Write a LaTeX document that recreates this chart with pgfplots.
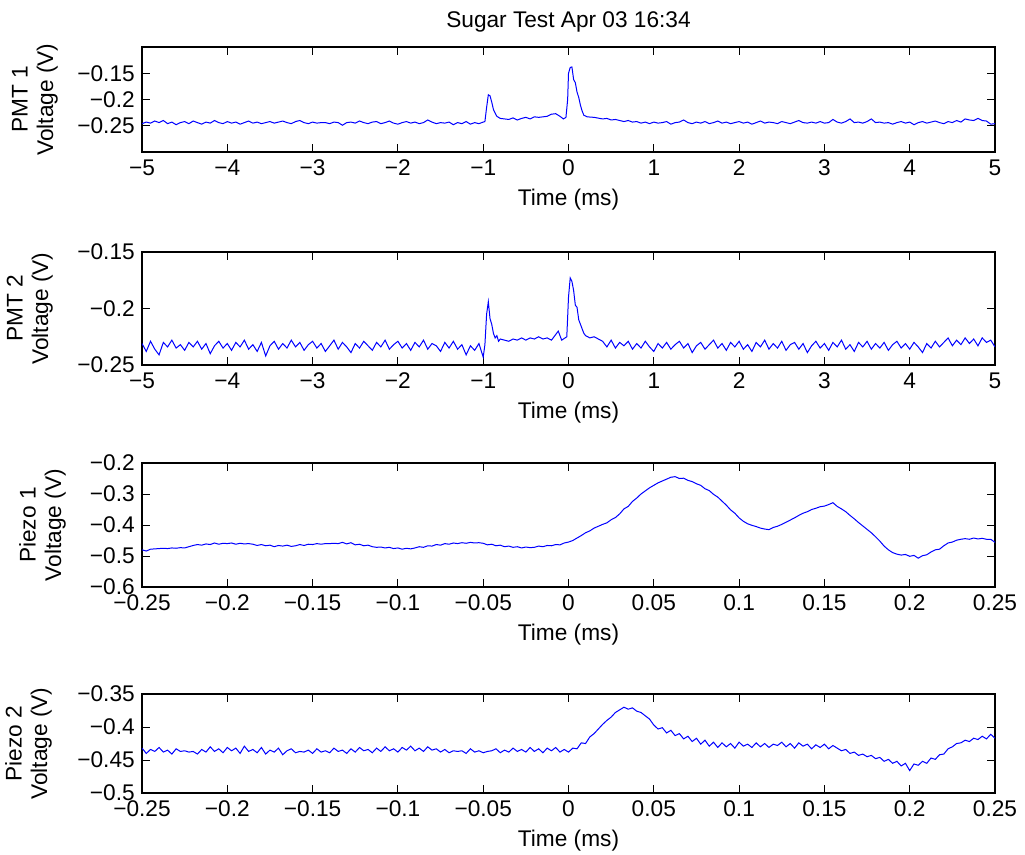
\documentclass[border=0pt]{standalone}
\usepackage{fontspec}
\setmainfont{Liberation Sans}
\usepackage{pgfplots}
\usepackage{pgfplotstable}
\pgfplotsset{compat=1.18}

% traces (time in ms, voltage in V)
\pgfplotstableread{
t v
-5.00 -0.246
-4.95 -0.243
-4.90 -0.245
-4.85 -0.241
-4.80 -0.244
-4.75 -0.240
-4.70 -0.246
-4.65 -0.243
-4.60 -0.248
-4.55 -0.244
-4.50 -0.242
-4.45 -0.246
-4.40 -0.241
-4.35 -0.244
-4.30 -0.247
-4.25 -0.243
-4.20 -0.245
-4.15 -0.240
-4.10 -0.244
-4.05 -0.246
-4.00 -0.242
-3.95 -0.245
-3.90 -0.243
-3.85 -0.247
-3.80 -0.244
-3.75 -0.241
-3.70 -0.245
-3.65 -0.243
-3.60 -0.246
-3.55 -0.244
-3.50 -0.242
-3.45 -0.245
-3.40 -0.243
-3.35 -0.241
-3.30 -0.244
-3.25 -0.246
-3.20 -0.242
-3.15 -0.240
-3.10 -0.244
-3.05 -0.246
-3.00 -0.243
-2.95 -0.245
-2.90 -0.244
-2.85 -0.244
-2.80 -0.246
-2.75 -0.243
-2.70 -0.244
-2.65 -0.249
-2.60 -0.244
-2.55 -0.243
-2.50 -0.245
-2.45 -0.241
-2.40 -0.244
-2.35 -0.246
-2.30 -0.243
-2.25 -0.242
-2.20 -0.246
-2.15 -0.244
-2.10 -0.241
-2.05 -0.245
-2.00 -0.247
-1.95 -0.244
-1.90 -0.242
-1.85 -0.245
-1.80 -0.243
-1.75 -0.246
-1.70 -0.244
-1.65 -0.239
-1.60 -0.243
-1.55 -0.246
-1.50 -0.244
-1.45 -0.245
-1.40 -0.243
-1.35 -0.248
-1.30 -0.244
-1.25 -0.246
-1.20 -0.242
-1.15 -0.247
-1.10 -0.244
-1.05 -0.246
-1.00 -0.243
-0.98 -0.242
-0.96 -0.215
-0.94 -0.191
-0.92 -0.193
-0.90 -0.205
-0.88 -0.219
-0.86 -0.226
-0.84 -0.232
-0.80 -0.236
-0.75 -0.237
-0.70 -0.238
-0.65 -0.235
-0.60 -0.239
-0.55 -0.236
-0.50 -0.234
-0.45 -0.237
-0.40 -0.233
-0.35 -0.234
-0.30 -0.233
-0.25 -0.232
-0.20 -0.228
-0.15 -0.227
-0.10 -0.232
-0.06 -0.237
-0.03 -0.234
-0.01 -0.200
0.00 -0.150
0.02 -0.139
0.04 -0.138
0.06 -0.162
0.08 -0.168
0.10 -0.186
0.12 -0.196
0.14 -0.211
0.16 -0.222
0.18 -0.230
0.22 -0.233
0.30 -0.234
0.40 -0.237
0.45 -0.236
0.50 -0.239
0.55 -0.238
0.60 -0.240
0.65 -0.242
0.70 -0.240
0.75 -0.243
0.80 -0.242
0.85 -0.245
0.90 -0.243
0.95 -0.246
1.00 -0.243
1.05 -0.245
1.10 -0.244
1.15 -0.242
1.20 -0.247
1.25 -0.244
1.30 -0.243
1.35 -0.239
1.40 -0.244
1.45 -0.246
1.50 -0.243
1.55 -0.245
1.60 -0.242
1.65 -0.246
1.70 -0.244
1.75 -0.241
1.80 -0.245
1.85 -0.243
1.90 -0.246
1.95 -0.244
2.00 -0.242
2.05 -0.245
2.10 -0.243
2.15 -0.247
2.20 -0.244
2.25 -0.241
2.30 -0.245
2.35 -0.243
2.40 -0.244
2.45 -0.246
2.50 -0.242
2.55 -0.244
2.60 -0.246
2.65 -0.243
2.70 -0.240
2.75 -0.244
2.80 -0.245
2.85 -0.243
2.90 -0.245
2.95 -0.242
3.00 -0.245
3.05 -0.244
3.10 -0.238
3.15 -0.243
3.20 -0.245
3.25 -0.242
3.30 -0.237
3.35 -0.244
3.40 -0.243
3.45 -0.245
3.50 -0.242
3.55 -0.237
3.60 -0.244
3.65 -0.243
3.70 -0.245
3.75 -0.244
3.80 -0.247
3.85 -0.244
3.90 -0.242
3.95 -0.245
4.00 -0.243
4.05 -0.248
4.10 -0.244
4.15 -0.242
4.20 -0.245
4.25 -0.243
4.30 -0.241
4.35 -0.244
4.40 -0.246
4.45 -0.242
4.50 -0.244
4.55 -0.240
4.60 -0.243
4.65 -0.237
4.70 -0.239
4.75 -0.240
4.80 -0.236
4.85 -0.240
4.90 -0.241
4.95 -0.247
5.00 -0.246
}\pmtone

\pgfplotstableread{
t v
-5.00 -0.231
-4.95 -0.238
-4.90 -0.229
-4.85 -0.236
-4.80 -0.241
-4.75 -0.230
-4.70 -0.234
-4.65 -0.228
-4.60 -0.235
-4.55 -0.232
-4.50 -0.237
-4.45 -0.230
-4.40 -0.234
-4.35 -0.229
-4.30 -0.236
-4.25 -0.231
-4.20 -0.240
-4.15 -0.233
-4.10 -0.229
-4.05 -0.235
-4.00 -0.231
-3.95 -0.237
-3.90 -0.230
-3.85 -0.234
-3.80 -0.228
-3.75 -0.236
-3.70 -0.232
-3.65 -0.238
-3.60 -0.230
-3.55 -0.242
-3.50 -0.233
-3.45 -0.229
-3.40 -0.236
-3.35 -0.231
-3.30 -0.235
-3.25 -0.228
-3.20 -0.234
-3.15 -0.230
-3.10 -0.237
-3.05 -0.232
-3.00 -0.229
-2.95 -0.235
-2.90 -0.231
-2.85 -0.238
-2.80 -0.233
-2.75 -0.228
-2.70 -0.236
-2.65 -0.230
-2.60 -0.234
-2.55 -0.239
-2.50 -0.231
-2.45 -0.235
-2.40 -0.229
-2.35 -0.233
-2.30 -0.237
-2.25 -0.230
-2.20 -0.234
-2.15 -0.228
-2.10 -0.236
-2.05 -0.232
-2.00 -0.229
-1.95 -0.235
-1.90 -0.231
-1.85 -0.237
-1.80 -0.230
-1.75 -0.234
-1.70 -0.228
-1.65 -0.236
-1.60 -0.231
-1.55 -0.233
-1.50 -0.238
-1.45 -0.230
-1.40 -0.235
-1.35 -0.229
-1.30 -0.236
-1.25 -0.232
-1.20 -0.241
-1.15 -0.233
-1.10 -0.237
-1.05 -0.231
-1.00 -0.243
-0.98 -0.232
-0.96 -0.205
-0.94 -0.194
-0.92 -0.209
-0.90 -0.214
-0.88 -0.222
-0.86 -0.226
-0.84 -0.224
-0.82 -0.229
-0.80 -0.227
-0.75 -0.228
-0.70 -0.229
-0.65 -0.227
-0.60 -0.228
-0.55 -0.226
-0.50 -0.228
-0.45 -0.226
-0.40 -0.227
-0.35 -0.225
-0.30 -0.227
-0.25 -0.226
-0.20 -0.228
-0.15 -0.223
-0.12 -0.220
-0.08 -0.228
-0.04 -0.226
-0.02 -0.225
0.00 -0.190
0.02 -0.173
0.04 -0.176
0.06 -0.184
0.08 -0.197
0.10 -0.199
0.12 -0.210
0.14 -0.214
0.16 -0.218
0.18 -0.222
0.20 -0.224
0.25 -0.226
0.30 -0.225
0.35 -0.227
0.40 -0.229
0.45 -0.234
0.50 -0.228
0.55 -0.235
0.60 -0.230
0.65 -0.233
0.70 -0.229
0.75 -0.236
0.80 -0.231
0.85 -0.235
0.90 -0.229
0.95 -0.234
1.00 -0.238
1.05 -0.231
1.10 -0.235
1.15 -0.230
1.20 -0.236
1.25 -0.232
1.30 -0.229
1.35 -0.235
1.40 -0.231
1.45 -0.239
1.50 -0.233
1.55 -0.230
1.60 -0.236
1.65 -0.232
1.70 -0.228
1.75 -0.235
1.80 -0.231
1.85 -0.237
1.90 -0.230
1.95 -0.234
2.00 -0.229
2.05 -0.236
2.10 -0.232
2.15 -0.238
2.20 -0.230
2.25 -0.234
2.30 -0.228
2.35 -0.236
2.40 -0.231
2.45 -0.235
2.50 -0.229
2.55 -0.237
2.60 -0.232
2.65 -0.230
2.70 -0.236
2.75 -0.231
2.80 -0.239
2.85 -0.233
2.90 -0.229
2.95 -0.235
3.00 -0.231
3.05 -0.237
3.10 -0.230
3.15 -0.234
3.20 -0.228
3.25 -0.236
3.30 -0.232
3.35 -0.238
3.40 -0.230
3.45 -0.234
3.50 -0.229
3.55 -0.236
3.60 -0.231
3.65 -0.235
3.70 -0.230
3.75 -0.237
3.80 -0.232
3.85 -0.229
3.90 -0.235
3.95 -0.231
4.00 -0.236
4.05 -0.230
4.10 -0.234
4.15 -0.239
4.20 -0.231
4.25 -0.235
4.30 -0.229
4.35 -0.234
4.40 -0.230
4.45 -0.226
4.50 -0.233
4.55 -0.228
4.60 -0.232
4.65 -0.226
4.70 -0.231
4.75 -0.227
4.80 -0.233
4.85 -0.226
4.90 -0.230
4.95 -0.228
5.00 -0.234
}\pmttwo

\pgfplotstableread{
t v
-0.250 -0.480
-0.2475 -0.484
-0.245 -0.478
-0.2425 -0.477
-0.240 -0.476
-0.2375 -0.475
-0.235 -0.476
-0.2325 -0.474
-0.230 -0.475
-0.2275 -0.473
-0.225 -0.474
-0.2225 -0.470
-0.220 -0.466
-0.2175 -0.463
-0.215 -0.465
-0.2125 -0.461
-0.210 -0.463
-0.2075 -0.458
-0.205 -0.462
-0.2025 -0.459
-0.200 -0.460
-0.1975 -0.458
-0.195 -0.462
-0.1925 -0.459
-0.190 -0.461
-0.1875 -0.460
-0.185 -0.462
-0.1825 -0.466
-0.180 -0.463
-0.1775 -0.467
-0.175 -0.465
-0.1725 -0.470
-0.170 -0.466
-0.1675 -0.468
-0.165 -0.465
-0.1625 -0.469
-0.160 -0.467
-0.1575 -0.463
-0.155 -0.466
-0.1525 -0.462
-0.150 -0.463
-0.1475 -0.460
-0.145 -0.462
-0.1425 -0.460
-0.140 -0.460
-0.1375 -0.459
-0.135 -0.460
-0.1325 -0.456
-0.130 -0.461
-0.1275 -0.457
-0.125 -0.464
-0.1225 -0.462
-0.120 -0.467
-0.1175 -0.465
-0.115 -0.470
-0.1125 -0.472
-0.110 -0.471
-0.1075 -0.474
-0.105 -0.472
-0.1025 -0.476
-0.100 -0.474
-0.0975 -0.478
-0.095 -0.475
-0.0925 -0.477
-0.090 -0.474
-0.0875 -0.470
-0.085 -0.472
-0.0825 -0.467
-0.080 -0.468
-0.0775 -0.463
-0.075 -0.465
-0.0725 -0.460
-0.070 -0.462
-0.0675 -0.458
-0.065 -0.460
-0.0625 -0.457
-0.060 -0.459
-0.0575 -0.456
-0.055 -0.458
-0.0525 -0.457
-0.050 -0.459
-0.0475 -0.464
-0.045 -0.462
-0.0425 -0.467
-0.040 -0.465
-0.0375 -0.470
-0.035 -0.468
-0.0325 -0.472
-0.030 -0.470
-0.0275 -0.474
-0.025 -0.471
-0.0225 -0.473
-0.020 -0.472
-0.0175 -0.468
-0.015 -0.470
-0.0125 -0.466
-0.010 -0.467
-0.0075 -0.463
-0.005 -0.464
-0.0025 -0.458
0.000 -0.455
0.0025 -0.450
0.005 -0.442
0.0075 -0.434
0.010 -0.425
0.0125 -0.419
0.015 -0.410
0.0175 -0.404
0.020 -0.398
0.0225 -0.393
0.025 -0.383
0.0275 -0.376
0.030 -0.364
0.0325 -0.348
0.035 -0.340
0.0375 -0.324
0.040 -0.313
0.0425 -0.300
0.045 -0.290
0.0475 -0.280
0.050 -0.272
0.0525 -0.264
0.055 -0.258
0.0575 -0.252
0.060 -0.246
0.0625 -0.244
0.065 -0.250
0.0675 -0.249
0.070 -0.256
0.0725 -0.260
0.075 -0.267
0.0775 -0.272
0.080 -0.283
0.0825 -0.289
0.085 -0.301
0.0875 -0.310
0.090 -0.323
0.0925 -0.336
0.095 -0.351
0.0975 -0.362
0.100 -0.377
0.1025 -0.388
0.105 -0.396
0.1075 -0.401
0.110 -0.405
0.1125 -0.410
0.115 -0.413
0.1175 -0.415
0.120 -0.408
0.1225 -0.404
0.125 -0.398
0.1275 -0.391
0.130 -0.384
0.1325 -0.377
0.135 -0.369
0.1375 -0.362
0.140 -0.357
0.1425 -0.350
0.145 -0.346
0.1475 -0.341
0.150 -0.339
0.1525 -0.334
0.155 -0.328
0.1575 -0.340
0.160 -0.348
0.1625 -0.357
0.165 -0.369
0.1675 -0.380
0.170 -0.392
0.1725 -0.403
0.175 -0.414
0.1775 -0.425
0.180 -0.438
0.1825 -0.452
0.185 -0.468
0.1875 -0.480
0.190 -0.489
0.1925 -0.494
0.195 -0.497
0.1975 -0.495
0.200 -0.501
0.2025 -0.498
0.205 -0.507
0.2075 -0.499
0.210 -0.496
0.2125 -0.487
0.215 -0.480
0.2175 -0.478
0.220 -0.467
0.2225 -0.458
0.225 -0.455
0.2275 -0.449
0.230 -0.446
0.2325 -0.444
0.235 -0.446
0.2375 -0.442
0.240 -0.445
0.2425 -0.443
0.245 -0.446
0.2475 -0.446
0.250 -0.456
}\piezoone

\pgfplotstableread{
t v
-0.250 -0.432
-0.2475 -0.440
-0.245 -0.434
-0.2425 -0.437
-0.240 -0.431
-0.2375 -0.438
-0.235 -0.435
-0.2325 -0.441
-0.230 -0.433
-0.2275 -0.437
-0.225 -0.436
-0.2225 -0.438
-0.220 -0.437
-0.2175 -0.441
-0.215 -0.434
-0.2125 -0.438
-0.210 -0.430
-0.2075 -0.437
-0.205 -0.433
-0.2025 -0.439
-0.200 -0.431
-0.1975 -0.436
-0.195 -0.432
-0.1925 -0.440
-0.190 -0.429
-0.1875 -0.437
-0.185 -0.434
-0.1825 -0.439
-0.180 -0.431
-0.1775 -0.441
-0.175 -0.435
-0.1725 -0.438
-0.170 -0.432
-0.1675 -0.442
-0.165 -0.436
-0.1625 -0.433
-0.160 -0.439
-0.1575 -0.437
-0.155 -0.438
-0.1525 -0.435
-0.150 -0.440
-0.1475 -0.433
-0.145 -0.438
-0.1425 -0.436
-0.140 -0.439
-0.1375 -0.432
-0.135 -0.437
-0.1325 -0.435
-0.130 -0.440
-0.1275 -0.433
-0.125 -0.438
-0.1225 -0.431
-0.120 -0.436
-0.1175 -0.434
-0.115 -0.439
-0.1125 -0.432
-0.110 -0.437
-0.1075 -0.430
-0.105 -0.436
-0.1025 -0.433
-0.100 -0.438
-0.0975 -0.431
-0.095 -0.435
-0.0925 -0.429
-0.090 -0.436
-0.0875 -0.432
-0.085 -0.437
-0.0825 -0.430
-0.080 -0.435
-0.0775 -0.433
-0.075 -0.438
-0.0725 -0.434
-0.070 -0.439
-0.0675 -0.436
-0.065 -0.437
-0.0625 -0.436
-0.060 -0.440
-0.0575 -0.433
-0.055 -0.438
-0.0525 -0.436
-0.050 -0.439
-0.0475 -0.437
-0.045 -0.436
-0.0425 -0.433
-0.040 -0.439
-0.0375 -0.435
-0.035 -0.438
-0.0325 -0.432
-0.030 -0.437
-0.0275 -0.434
-0.025 -0.438
-0.0225 -0.431
-0.020 -0.437
-0.0175 -0.433
-0.015 -0.439
-0.0125 -0.432
-0.010 -0.436
-0.0075 -0.431
-0.005 -0.438
-0.0025 -0.434
0.000 -0.438
0.0025 -0.432
0.005 -0.433
0.0075 -0.424
0.010 -0.425
0.0125 -0.415
0.015 -0.410
0.0175 -0.403
0.020 -0.396
0.0225 -0.390
0.025 -0.385
0.0275 -0.378
0.030 -0.374
0.0325 -0.370
0.035 -0.373
0.0375 -0.371
0.040 -0.376
0.0425 -0.378
0.045 -0.383
0.0475 -0.388
0.050 -0.397
0.0525 -0.403
0.055 -0.401
0.0575 -0.409
0.060 -0.405
0.0625 -0.413
0.065 -0.410
0.0675 -0.418
0.070 -0.414
0.0725 -0.422
0.075 -0.417
0.0775 -0.426
0.080 -0.420
0.0825 -0.429
0.085 -0.423
0.0875 -0.431
0.090 -0.424
0.0925 -0.430
0.095 -0.425
0.0975 -0.432
0.100 -0.423
0.1025 -0.429
0.105 -0.426
0.1075 -0.431
0.110 -0.424
0.1125 -0.430
0.115 -0.425
0.1175 -0.431
0.120 -0.426
0.1225 -0.428
0.125 -0.423
0.1275 -0.430
0.130 -0.425
0.1325 -0.432
0.135 -0.424
0.1375 -0.429
0.140 -0.426
0.1425 -0.433
0.145 -0.427
0.1475 -0.431
0.150 -0.426
0.1525 -0.433
0.155 -0.428
0.1575 -0.432
0.160 -0.436
0.1625 -0.434
0.165 -0.440
0.1675 -0.438
0.170 -0.443
0.1725 -0.441
0.175 -0.445
0.1775 -0.443
0.180 -0.448
0.1825 -0.446
0.185 -0.452
0.1875 -0.449
0.190 -0.455
0.1925 -0.452
0.195 -0.459
0.1975 -0.455
0.200 -0.466
0.2025 -0.456
0.205 -0.458
0.2075 -0.452
0.210 -0.455
0.2125 -0.447
0.215 -0.449
0.2175 -0.442
0.220 -0.441
0.2225 -0.433
0.225 -0.430
0.2275 -0.425
0.230 -0.424
0.2325 -0.420
0.235 -0.422
0.2375 -0.417
0.240 -0.419
0.2425 -0.414
0.245 -0.418
0.2475 -0.411
0.250 -0.417
}\piezotwo

\pgfplotsset{
  scope panel/.style={
    scale only axis,
    width=639.75pt,
    anchor=north west,
    axis line style={line width=0.8pt},
    tick style={black, line width=0.7pt},
    tick align=inside,
    major tick length=6pt,
    xtick pos=both, ytick pos=both,
    tick label style={font=\fontsize{17}{20}\selectfont},
    yticklabel style={anchor=east, inner sep=0pt, xshift=-5.25pt},
    xticklabel style={anchor=north, inner sep=0pt, yshift=-5.8pt},
    xlabel={Time (ms)},
    label style={font=\fontsize{17}{19}\selectfont},
    xlabel style={at={(axis description cs:0.5,0)}, anchor=center, yshift=-36pt},
    ylabel style={anchor=south, align=center, inner sep=0pt},
    clip=true,
  },
  ms wide/.style={
    xmin=-5, xmax=5,
    xtick={-5,-4,...,5},
    xticklabels={−5,−4,−3,−2,−1,0,1,2,3,4,5},
  },
  ms narrow/.style={
    xmin=-0.25, xmax=0.25,
    xtick={-0.25,-0.2,-0.15,-0.1,-0.05,0,0.05,0.1,0.15,0.2,0.25},
    xticklabels={−0.25,−0.2,−0.15,−0.1,−0.05,0,0.05,0.1,0.15,0.2,0.25},
  },
  trace/.style={blue, line width=0.75pt, mark=none},
}

\begin{document}
\begin{tikzpicture}
\path[use as bounding box] (0,0) rectangle (768.75pt,-640.5pt);

\begin{axis}[scope panel, ms wide,
  at={(106.5pt,-35.25pt)}, height=78.75pt,
  ymin=-0.3, ymax=-0.1,
  ytick={-0.25,-0.2,-0.15}, yticklabels={−0.25,−0.2,−0.15},
  ylabel={PMT 1\\Voltage (V)},
  ylabel style={at={(axis description cs:-0.0985,0.5)}},
  title={Sugar Test Apr 03 16:34},
  title style={at={(axis description cs:0.5,1)}, anchor=center, yshift=12.75pt,
    font=\fontsize{17}{20}\selectfont},
]
\addplot[trace] table {\pmtone};
\end{axis}

\begin{axis}[scope panel, ms wide,
  at={(106.5pt,-189pt)}, height=84.75pt,
  ymin=-0.25, ymax=-0.15,
  ytick={-0.25,-0.2,-0.15}, yticklabels={−0.25,−0.2,−0.15},
  ylabel={PMT 2\\Voltage (V)},
  ylabel style={at={(axis description cs:-0.1043,0.5)}},
]
\addplot[trace] table {\pmttwo};
\end{axis}

\begin{axis}[scope panel, ms narrow,
  at={(106.5pt,-347.25pt)}, height=93pt,
  ymin=-0.6, ymax=-0.2,
  ytick={-0.6,-0.5,-0.4,-0.3,-0.2}, yticklabels={−0.6,−0.5,−0.4,−0.3,−0.2},
  ylabel={Piezo 1\\Voltage (V)},
  ylabel style={at={(axis description cs:-0.0891,0.5)}},
]
\addplot[trace] table {\piezoone};
\end{axis}

\begin{axis}[scope panel, ms narrow,
  at={(106.5pt,-520.5pt)}, height=74.25pt,
  ymin=-0.5, ymax=-0.35,
  ytick={-0.5,-0.45,-0.4,-0.35}, yticklabels={−0.5,−0.45,−0.4,−0.35},
  ylabel={Piezo 2\\Voltage (V)},
  ylabel style={at={(axis description cs:-0.1055,0.5)}},
]
\addplot[trace] table {\piezotwo};
\end{axis}
\end{tikzpicture}
\end{document}
